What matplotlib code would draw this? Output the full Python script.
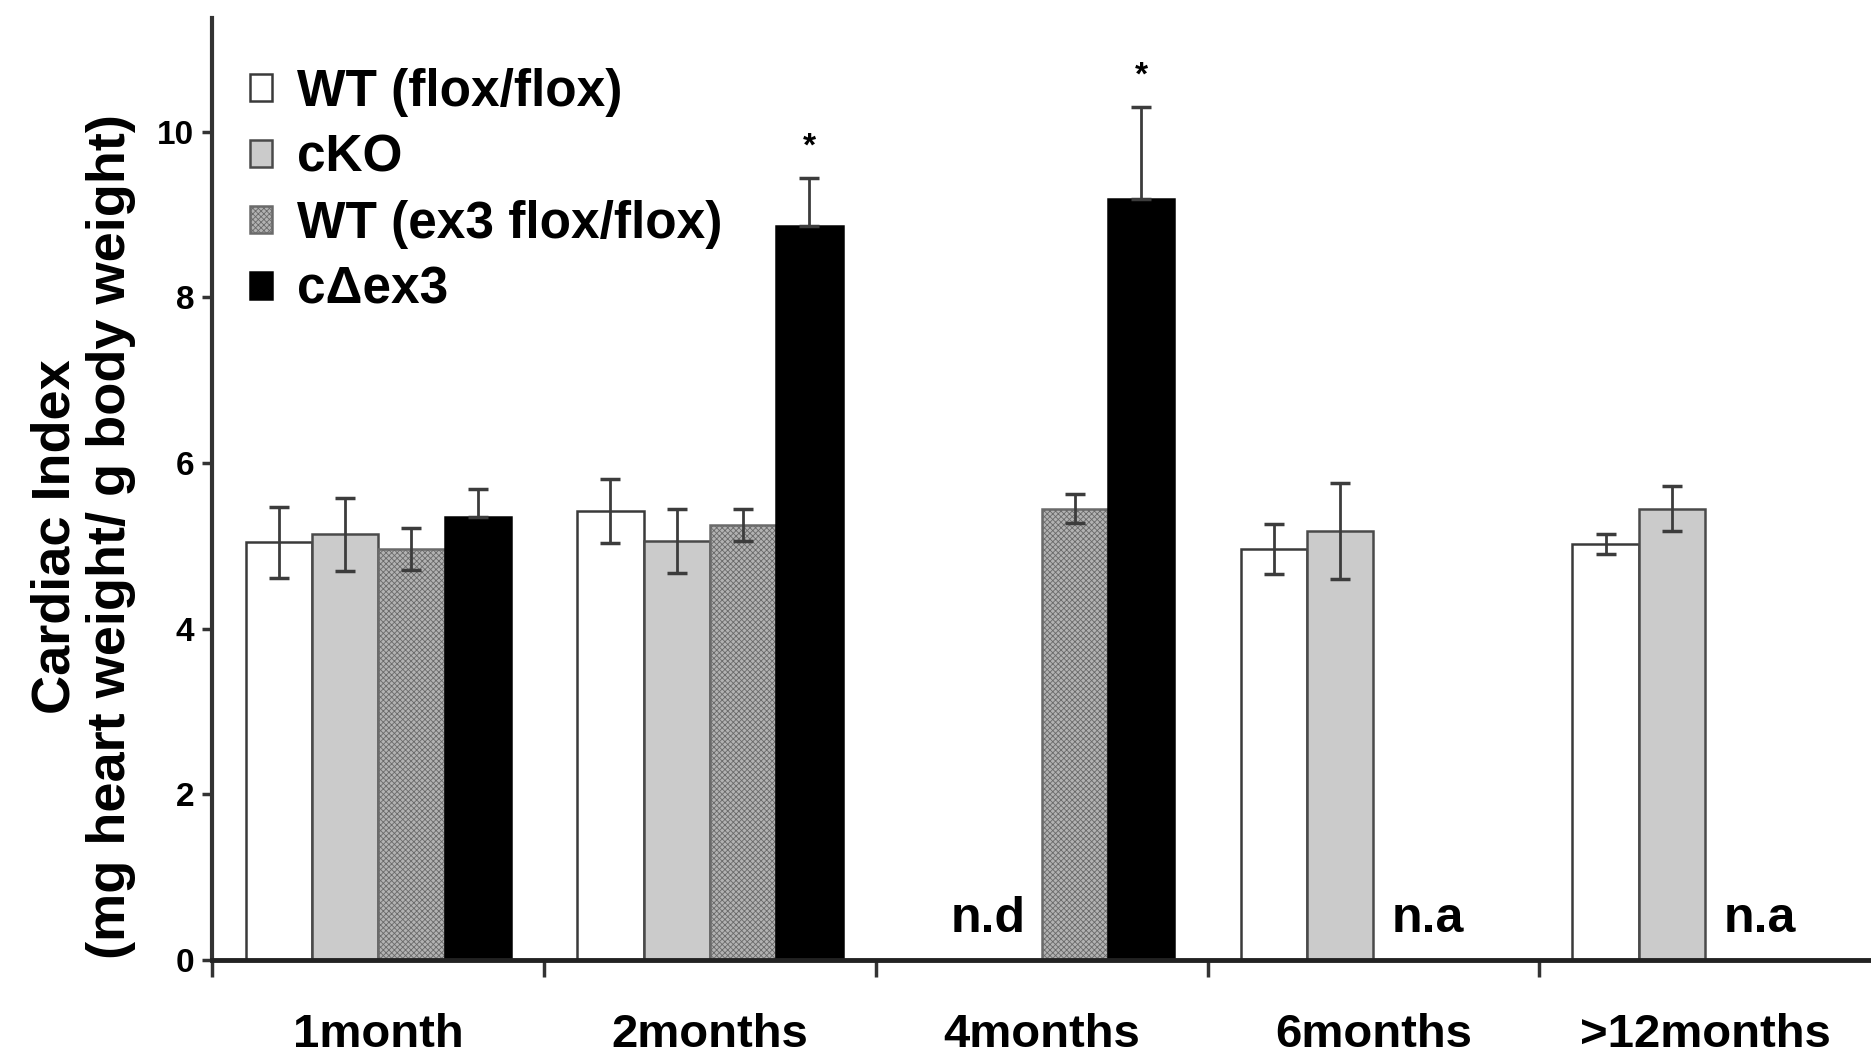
import matplotlib
matplotlib.use("Agg")
import matplotlib.pyplot as plt
import numpy as np

plt.rcParams['font.family'] = ['Liberation Sans', 'DejaVu Sans']
plt.rcParams['font.weight'] = 'bold'
plt.rcParams['hatch.color'] = '#7a7a7a'
plt.rcParams['hatch.linewidth'] = 0.6

categories = ['1month', '2months', '4months', '6months', '>12months']
labels = ['WT (flox/flox)', 'cKO', 'WT (ex3 flox/flox)', 'c\u0394ex3']

# nan = no bar for that group
wt_flox = [5.04, 5.42, np.nan, 4.96, 5.02]
wt_flox_err = [0.43, 0.39, 0, 0.30, 0.12]
cko = [5.14, 5.06, np.nan, 5.18, 5.45]
cko_err = [0.44, 0.39, 0, 0.58, 0.27]
wt_ex3 = [4.96, 5.25, 5.45, np.nan, np.nan]
wt_ex3_err = [0.25, 0.19, 0.17, 0, 0]
cdex3 = [5.35, 8.86, 9.18, np.nan, np.nan]
cdex3_err = [0.33, 0.58, 1.12, 0, 0]

stars = {1: '*', 2: '*'}
missing = [(2, -0.16, 'n.d'), (3, 0.165, 'n.a'), (4, 0.165, 'n.a')]

fig = plt.figure(figsize=(18.71, 10.56), dpi=100)
ax = fig.add_axes([0.1135, 0.0909, 0.8865, 0.892])

x = np.arange(len(categories))
w = 0.2
series = [wt_flox, cko, wt_ex3, cdex3]
errs = [wt_flox_err, cko_err, wt_ex3_err, cdex3_err]
faces = ['white', '#cbcbcb', '#b2b2b2', 'black']
edges = ['#3a3a3a', '#4a4a4a', '#6a6a6a', 'black']
hatches = [None, None, 'xxxxxx', None]

for i in range(4):
    vals = np.array(series[i])
    e = np.array(errs[i])
    pos = x + (i - 1.5) * w
    ax.bar(pos, vals, w, color=faces[i], edgecolor=edges[i], linewidth=1.8,
           hatch=hatches[i], label=labels[i], zorder=2)
    lower = np.zeros_like(e) if i == 3 else e
    ax.errorbar(pos, vals, yerr=[lower, e], fmt='none', ecolor='#3c3c3c',
                elinewidth=2, capsize=7.5, capthick=2.5, zorder=3)

for k, s in stars.items():
    top = cdex3[k] + cdex3_err[k]
    ax.text(x[k] + 1.5 * w, top + 0.18, s, ha='center', va='bottom', fontsize=24)

for k, off, t in missing:
    ax.text(x[k] + off, 0.22, t, ha='center', va='bottom', fontsize=36)

ax.set_xlim(-0.5, 4.5)
ax.set_ylim(0, 11.37)
ax.set_yticks([0, 2, 4, 6, 8, 10])
ax.tick_params(axis='y', labelsize=24, length=7, width=2.5, color='#333333', pad=6)
ax.set_xticks(x)
ax.set_xticklabels(categories)
ax.tick_params(axis='x', which='major', length=0, labelsize=34, pad=38)
ax.set_xticks(np.arange(-0.5, 4.5, 1), minor=True)
ax.tick_params(axis='x', which='minor', length=12, width=2.5, color='#333333')

for sp in ['top', 'right']:
    ax.spines[sp].set_visible(False)
ax.spines['left'].set_linewidth(3)
ax.spines['left'].set_color('#333333')
ax.spines['bottom'].set_linewidth(3.5)
ax.spines['bottom'].set_color('#222222')

ax.set_ylabel('Cardiac Index\n(mg heart weight/ g body weight)', fontsize=39,
              fontweight='bold', linespacing=1.15)
ax.yaxis.set_label_coords(-0.046, 0.45)

ax.legend(loc='upper left', bbox_to_anchor=(250 / 1871, 1 - 68 / 1056),
          bbox_transform=fig.transFigure, frameon=False, fontsize=37,
          handlelength=0.42, handleheight=0.42, handletextpad=0.5,
          labelspacing=0.33, borderpad=0, borderaxespad=0)

fig.savefig('out.png', dpi=100)
